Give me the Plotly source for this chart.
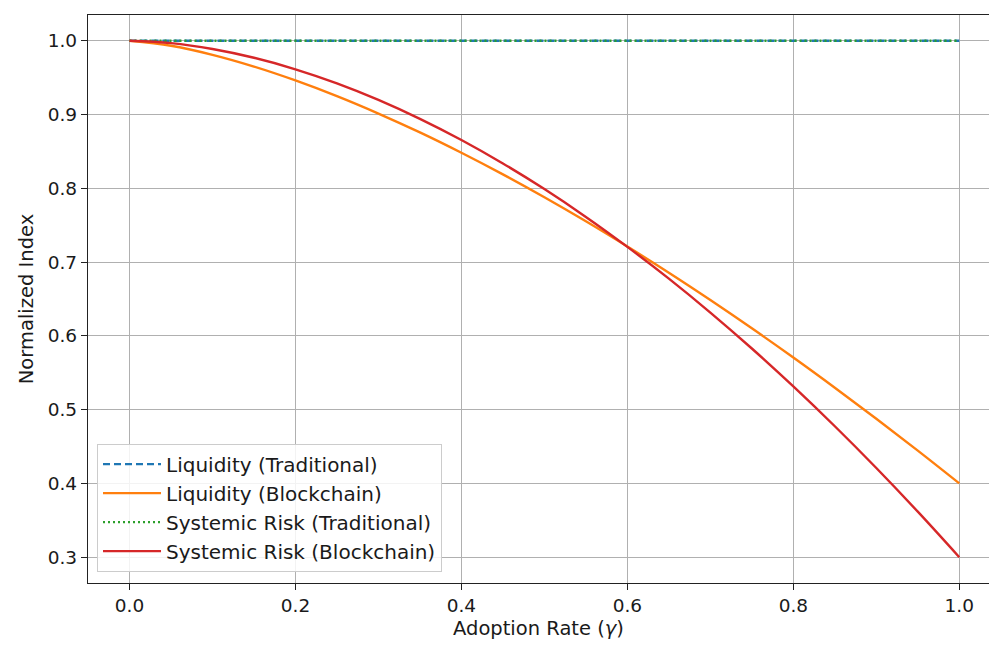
import plotly.graph_objects as go

gamma = [0.00, 0.05, 0.10, 0.15, 0.20, 0.25, 0.30, 0.35, 0.40, 0.45, 0.50,
         0.55, 0.60, 0.65, 0.70, 0.75, 0.80, 0.85, 0.90, 0.95, 1.00]
liq_trad = [1.0] * 21
liq_chain = [1.000, 0.9933, 0.9810, 0.9651, 0.9463, 0.9250, 0.9014, 0.8758, 0.8482, 0.8189, 0.7879,
             0.7553, 0.7211, 0.6856, 0.6486, 0.6103, 0.5707, 0.5298, 0.4877, 0.4444, 0.4000]
risk_trad = [1.0] * 21
risk_chain = [1.000, 0.9968, 0.9889, 0.9770, 0.9614, 0.9423, 0.9199, 0.8942, 0.8655, 0.8337, 0.7990,
              0.7613, 0.7207, 0.6776, 0.6316, 0.5829, 0.5315, 0.4775, 0.4209, 0.3617, 0.3000]

x_ticks = [0.0, 0.2, 0.4, 0.6, 0.8, 1.0]
y_ticks = [0.3, 0.4, 0.5, 0.6, 0.7, 0.8, 0.9, 1.0]

font = "DejaVu Sans"
fig = go.Figure()
fig.add_trace(go.Scatter(x=gamma, y=liq_trad, mode="lines", name="Liquidity (Traditional)",
                         line=dict(color="#1f77b4", width=2.4, dash="7px,4px")))
fig.add_trace(go.Scatter(x=gamma, y=liq_chain, mode="lines", name="Liquidity (Blockchain)",
                         line=dict(color="#ff7f0e", width=2.4, shape="spline")))
fig.add_trace(go.Scatter(x=gamma, y=risk_trad, mode="lines", name="Systemic Risk (Traditional)",
                         line=dict(color="#2ca02c", width=2.4, dash="2px,3px")))
fig.add_trace(go.Scatter(x=gamma, y=risk_chain, mode="lines", name="Systemic Risk (Blockchain)",
                         line=dict(color="#d62728", width=2.4, shape="spline")))

fig.update_layout(
    width=989, height=646,
    margin=dict(l=88, r=0, t=15, b=63),
    plot_bgcolor="white", paper_bgcolor="white",
    font=dict(family=font, size=18.5, color="#1a1a1a"),
    showlegend=True,
    legend=dict(x=0.01, y=0.02, xanchor="left", yanchor="bottom",
                bgcolor="rgba(255,255,255,0.85)", bordercolor="#cccccc", borderwidth=1,
                font=dict(family=font, size=20), tracegroupgap=0, itemwidth=58),
    xaxis=dict(range=[-0.05, 1.0358], tickvals=x_ticks, ticktext=[f"{v:.1f}" for v in x_ticks],
               showgrid=True, gridcolor="#b0b0b0", gridwidth=1, automargin=False,
               showline=True, linecolor="#222", linewidth=1.3, mirror=True,
               ticks="outside", ticklen=6, tickcolor="#222", zeroline=False,
               title=dict(text="Adoption Rate (<i>γ</i>)", font=dict(size=19.5), standoff=6),
               tickfont=dict(size=18.5)),
    yaxis=dict(range=[0.265, 1.035], tickvals=y_ticks, ticktext=[f"{v:.1f}" for v in y_ticks],
               showgrid=True, gridcolor="#b0b0b0", gridwidth=1, automargin=False,
               showline=True, linecolor="#222", linewidth=1.3, mirror=False,
               ticks="outside", ticklen=6, tickcolor="#222", zeroline=False,
               title=dict(text="Normalized Index", font=dict(size=19.5), standoff=8),
               tickfont=dict(size=18.5)),
)
fig.write_html("out.html", config={"displayModeBar": False},
               post_script="document.body.style.margin='0';document.body.style.overflow='hidden';")
